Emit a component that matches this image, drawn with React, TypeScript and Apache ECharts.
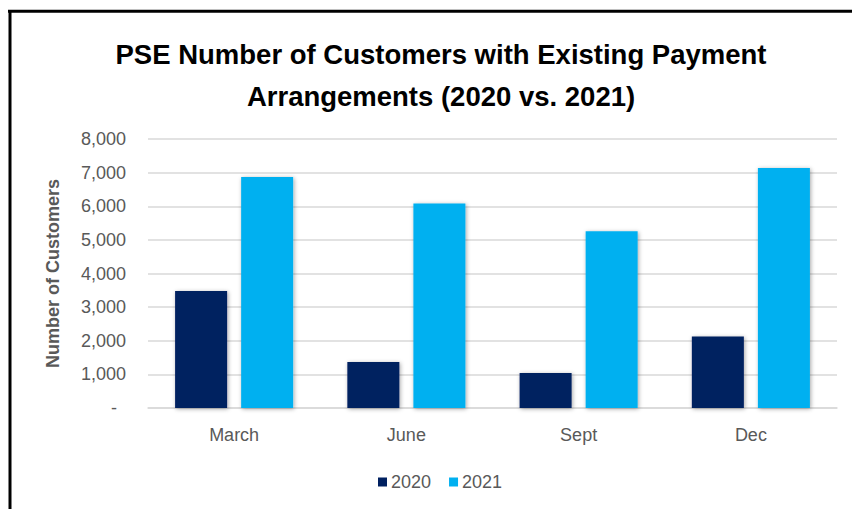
import React, { useEffect, useRef } from "react";
import * as echarts from "echarts";

const categories = ["March", "June", "Sept", "Dec"];
const seriesNames = ["2020", "2021"];
const values2020 = [3480, 1365, 1040, 2125];
const values2021 = [6870, 6080, 5260, 7140];
const yTicks = { min: 0, max: 8000, interval: 1000 };
const titleLines = ["PSE Number of Customers with Existing Payment", "Arrangements (2020 vs. 2021)"];
const yAxisName = "Number of Customers";

const FONT = "'Liberation Sans', Arial, sans-serif";
const GREY = "#595959";

export default function App() {
  const ref = useRef<HTMLDivElement>(null);
  useEffect(() => {
    if (!ref.current) return;
    const chart = echarts.init(ref.current, undefined, { renderer: "svg" });
    chart.setOption({
      animation: false,
      backgroundColor: "#ffffff",
      title: {
        text: titleLines.join("\n"),
        left: 436,
        top: 28,
        textAlign: "center",
        textStyle: {
          fontFamily: FONT,
          fontWeight: "bold",
          fontSize: 27.5,
          lineHeight: 42,
          color: "#000000",
        },
      },
      legend: {
        data: seriesNames,
        left: 373,
        top: 468,
        itemWidth: 9,
        itemHeight: 9,
        itemGap: 18,
        icon: "rect",
        textStyle: { fontFamily: FONT, fontSize: 18, color: GREY, padding: [0, 0, 0, -1] },
      },
      grid: { left: 148, right: 15, top: 139, bottom: 101, containLabel: false },
      xAxis: {
        type: "category",
        data: categories,
        axisLine: { lineStyle: { color: "#d9d9d9", width: 1.5 } },
        axisTick: { show: false },
        axisLabel: { fontFamily: FONT, fontSize: 18, color: GREY, margin: 18 },
      },
      yAxis: {
        type: "value",
        min: yTicks.min,
        max: yTicks.max,
        interval: yTicks.interval,
        name: yAxisName,
        nameLocation: "middle",
        nameGap: 86,
        nameRotate: 90,
        nameTextStyle: { fontFamily: FONT, fontSize: 18, fontWeight: "bold", color: GREY },
        axisLine: { show: false },
        axisTick: { show: false },
        splitLine: { lineStyle: { color: "#d9d9d9", width: 1.5 } },
        axisLabel: {
          fontFamily: FONT,
          fontSize: 18,
          color: GREY,
          margin: 22,
          formatter: (v: number) => (v === 0 ? "{d|-}" : v.toLocaleString("en-US")),
          rich: { d: { fontFamily: FONT, fontSize: 18, color: GREY, padding: [0, 9, 0, 0] } },
        },
      },
      series: [
        {
          name: seriesNames[0],
          type: "bar",
          data: values2020,
          barWidth: 52,
          barGap: "27%",
          itemStyle: {
            color: "#002060",
            shadowBlur: 4,
            shadowColor: "rgba(0,0,0,0.35)",
            shadowOffsetX: 1,
            shadowOffsetY: 1,
          },
        },
        {
          name: seriesNames[1],
          type: "bar",
          data: values2021,
          barWidth: 52,
          barGap: "27%",
          itemStyle: {
            color: "#00B0F0",
            shadowBlur: 4,
            shadowColor: "rgba(0,0,0,0.35)",
            shadowOffsetX: 1,
            shadowOffsetY: 1,
          },
        },
      ],
      graphic: [
        { type: "line", shape: { x1: 8, y1: 11.3, x2: 852, y2: 11.3 }, style: { stroke: "#000", lineWidth: 3 } },
        { type: "line", shape: { x1: 10, y1: 10, x2: 10, y2: 509 }, style: { stroke: "#000", lineWidth: 3 } },
      ],
    });
    return () => chart.dispose();
  }, []);
  return (
    <div
      ref={ref}
      style={{ position: "fixed", left: 0, top: 0, width: 852, height: 509 }}
    />
  );
}
